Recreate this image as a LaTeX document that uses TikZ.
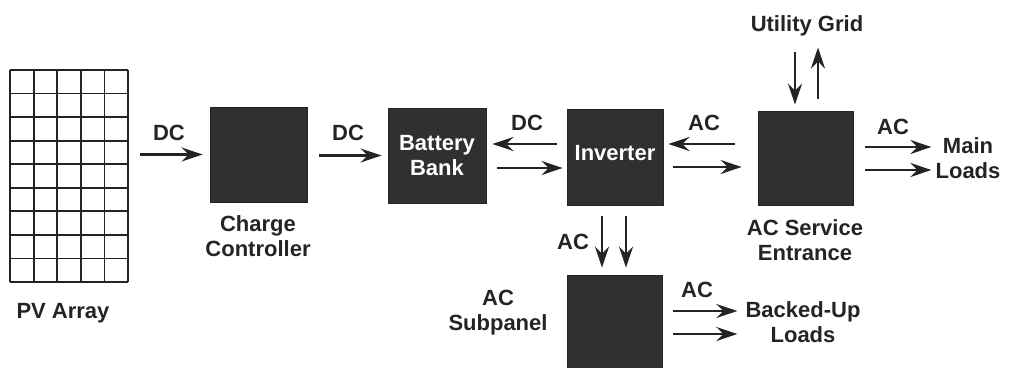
\documentclass[tikz,border=0pt]{standalone}
\usepackage{fontspec}
\setmainfont{Liberation Sans}
\usetikzlibrary{arrows.meta}
\definecolor{ink}{HTML}{242424}
\definecolor{boxfill}{HTML}{303030}
\tikzset{
  blk/.style={draw=ink, fill=boxfill, line width=0.8pt, inner sep=0pt},
  lbl/.style={text=ink, font=\bfseries\fontsize{22}{25}\selectfont, inner sep=0pt, align=center},
  wlbl/.style={text=white, font=\bfseries\fontsize{22}{25}\selectfont, align=center},
  arr/.style={draw=ink, line width=2.8pt, -{Stealth[length=21pt,width=14pt,inset=7pt]}},
}
\begin{document}
\begin{tikzpicture}[x=1pt,y=-1pt]
\useasboundingbox (0,0) rectangle (1009,367);
% PV array
\node[minimum width=118pt, minimum height=212pt, inner sep=0pt] (pv) at (69,176) {};
\draw[ink, line width=1.8pt, xstep=23.6pt, ystep=23.555pt, shift={(10,70)}] (0,0) grid (118,212);
\node[lbl] (pvl) at (63,313) {PV Array};
% boxes
\node[blk, minimum width=97pt, minimum height=95pt] (cc) at (258.5,154.5) {};
\node[blk, minimum width=98pt, minimum height=95pt] (bat) at (437,155.5) {};
\node[wlbl] at (bat) {Battery\\Bank};
\node[blk, minimum width=96pt, minimum height=96pt] (inv) at (615,157) {};
\node[wlbl] at ([yshift=4pt]inv.center) {Inverter};
\node[blk, minimum width=95pt, minimum height=94pt] (acse) at (805.5,158) {};
\node[blk, minimum width=95pt, minimum height=94pt] (sub) at (614.5,322) {};
% labels
\node[lbl] (ccl) at (258,236) {Charge\\Controller};
\node[lbl] (acsel) at (805,240) {AC Service\\Entrance};
\node[lbl] (subl) at (498,313) {AC\\Subpanel};
\node[lbl] (util) at (807,26) {Utility Grid};
\node[lbl] (mainl) at (968,158) {Main\\Loads};
\node[lbl] (backl) at (803,322) {Backed-Up\\Loads};
\node[lbl] (dc1) at (169,133) {DC};
\node[lbl] (dc2) at (348,133) {DC};
\node[lbl] (dc3) at (527,123) {DC};
\node[lbl] (ac1) at (704,123) {AC};
\node[lbl] (ac2) at (893,127) {AC};
\node[lbl] (ac3) at (573,242) {AC};
\node[lbl] (ac4) at (697,290) {AC};
% arrows
\draw[arr, shorten <=12pt, shorten >=7pt] (pv.east |- cc.west) -- (cc.west);
\draw[arr, shorten <=12pt, shorten >=6pt] (cc.east |- bat.west) -- (bat.west);
\draw[arr, shorten <=10pt, shorten >=6pt] ([yshift=13pt]inv.west) -- ([yshift=13pt]inv.west -| bat.east);
\draw[arr, shorten <=11pt, shorten >=4pt] ([yshift=-11pt]inv.west -| bat.east) -- ([yshift=-11pt]inv.west);
\draw[arr, shorten <=23pt, shorten >=5pt] ([yshift=14pt]acse.west) -- ([yshift=14pt]acse.west -| inv.east);
\draw[arr, shorten <=10pt, shorten >=16pt] ([yshift=-10pt]inv.east) -- ([yshift=-10pt]inv.east -| acse.west);
\draw[arr, shorten <=12pt, shorten >=4pt] ([yshift=11pt]acse.east) -- ([yshift=11pt]acse.east -| mainl.west);
\draw[arr, shorten <=12pt, shorten >=4pt] ([yshift=-12pt]acse.east) -- ([yshift=-12pt]acse.east -| mainl.west);
\draw[arr, shorten <=16pt, shorten >=6pt] ([xshift=-10.5pt]acse.north |- util.south) -- ([xshift=-10.5pt]acse.north);
\draw[arr, shorten <=12pt, shorten >=11pt] ([xshift=12.5pt]acse.north) -- ([xshift=12.5pt]acse.north |- util.south);
\draw[arr, shorten <=11pt, shorten >=7pt] ([xshift=-13pt]inv.south) -- ([xshift=-13pt]inv.south |- sub.north);
\draw[arr, shorten <=11pt, shorten >=7pt] ([xshift=11pt]inv.south) -- ([xshift=11pt]inv.south |- sub.north);
\draw[arr, shorten <=11pt, shorten >=8pt] ([yshift=11pt]sub.east) -- ([yshift=11pt]sub.east -| backl.west);
\draw[arr, shorten <=11pt, shorten >=8pt] ([yshift=-12pt]sub.east) -- ([yshift=-12pt]sub.east -| backl.west);
\end{tikzpicture}
\end{document}
